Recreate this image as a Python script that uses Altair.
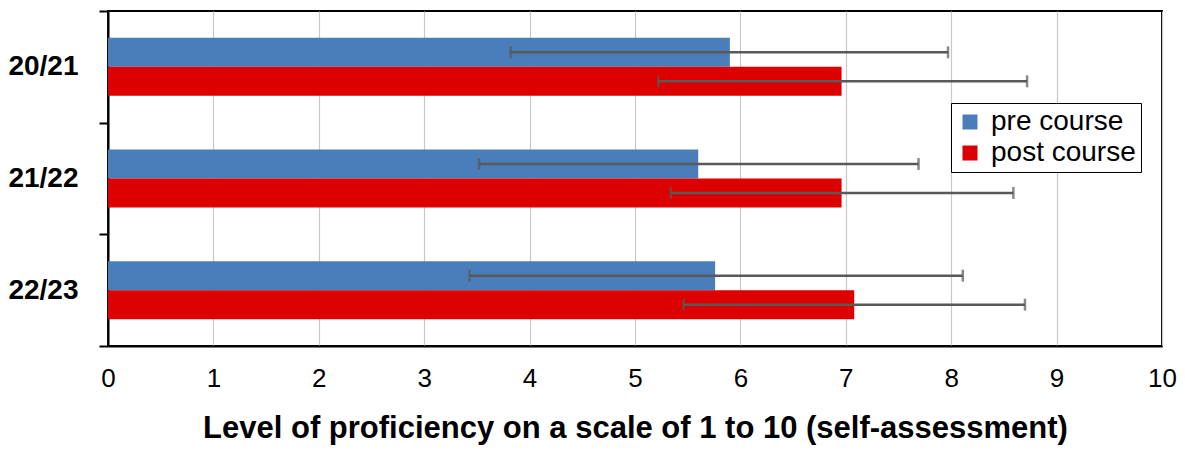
import altair as alt
import pandas as pd

years = ["20/21", "21/22", "22/23"]
series = ["pre course", "post course"]
pre_mean = [5.90, 5.60, 5.76]
post_mean = [6.96, 6.96, 7.08]
pre_low = [3.82, 3.52, 3.43]
pre_high = [7.97, 7.69, 8.11]
post_low = [5.22, 5.34, 5.46]
post_high = [8.72, 8.59, 8.70]
colors = ["#4a7ebb", "#dd0000"]
x_ticks = list(range(11))

rows = []
for i, y in enumerate(years):
    rows.append({"year": y, "series": series[0], "mean": pre_mean[i], "low": pre_low[i], "high": pre_high[i]})
    rows.append({"year": y, "series": series[1], "mean": post_mean[i], "low": post_low[i], "high": post_high[i]})
df = pd.DataFrame(rows)

FONT = "Liberation Sans"

yscale = alt.Scale(domain=years, paddingInner=0, paddingOuter=0)
xscale = alt.Scale(domain=[0, 10], nice=False)
yoff = alt.YOffset("series:N", sort=series,
                   scale=alt.Scale(domain=series, paddingInner=0, paddingOuter=0.925))
yenc = alt.Y("year:N", scale=yscale, sort=years, title=None)
xtitle = "Level of proficiency on a scale of 1 to 10 (self-assessment)"
xaxis = alt.Axis(values=x_ticks, format="d", title=xtitle)

bars = alt.Chart(df).mark_bar(stroke=None).encode(
    x=alt.X("mean:Q", scale=xscale, axis=xaxis),
    y=yenc,
    yOffset=yoff,
    color=alt.Color("series:N", sort=series,
                    scale=alt.Scale(domain=series, range=colors),
                    legend=alt.Legend(title=None, orient="none", legendX=843, legendY=92,
                                      symbolType="square", symbolSize=225, symbolStrokeWidth=0,
                                      labelFontSize=28, labelFont=FONT, labelColor="#000",
                                      labelOffset=7, rowPadding=3, padding=5,
                                      fillColor="#fff", strokeColor="#000")),
)

rules = alt.Chart(df).mark_rule(color="#595959", strokeWidth=2.5).encode(
    x=alt.X("low:Q", scale=xscale, axis=xaxis), x2="high:Q",
    y=yenc,
    yOffset=yoff,
)

caps_lo = alt.Chart(df).mark_tick(color="#595959", thickness=2.5, size=12).encode(
    x=alt.X("low:Q", scale=xscale, axis=xaxis),
    y=yenc,
    yOffset=yoff,
)
caps_hi = alt.Chart(df).mark_tick(color="#595959", thickness=2.5, size=12).encode(
    x=alt.X("high:Q", scale=xscale, axis=xaxis),
    y=yenc,
    yOffset=yoff,
)

chart = alt.layer(bars, rules, caps_lo, caps_hi).properties(
    width=1054, height=335,
    background="#fff",
    autosize=alt.AutoSizeParams(type="none"),
    padding={"left": 100, "top": 3, "right": 15, "bottom": 100},
).configure_view(
    stroke="#000", strokeWidth=2
).configure_axisX(
    grid=True, gridColor="#c8c8c8", gridWidth=1.2, ticks=False, tickSize=0,
    domainColor="#000", domainWidth=2, labelFontSize=26, labelColor="#000", labelFont=FONT,
    labelPadding=19, labelOverlap=False, labelFlush=False,
    titleFontSize=31, titleFont=FONT, titleFontWeight="bold", titleColor="#000", titlePadding=22,
).configure_axisY(
    tickBand="extent", tickSize=9, tickColor="#000", tickWidth=2, domainColor="#000",
    domainWidth=2, labelFontSize=28, labelFontWeight="bold", labelFont=FONT,
    labelColor="#000", labelPadding=21, grid=False,
)

chart.save("out.html", embed_options={"renderer": "svg", "actions": False})
